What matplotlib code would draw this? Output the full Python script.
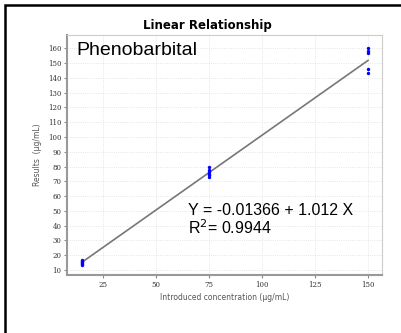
import numpy as np
import matplotlib.pyplot as plt
from matplotlib.patches import Rectangle

# data
conc_15 = [15, 15, 15, 15, 15, 15]
res_15 = [13.5, 14.2, 14.8, 15.3, 16.0, 16.6]
conc_75 = [75, 75, 75, 75, 75, 75]
res_75 = [73.0, 74.0, 75.0, 76.2, 77.5, 79.5]
conc_150 = [150, 150, 150, 150, 150]
res_150 = [160.5, 158.5, 156.5, 146.0, 143.5]

intercept = -0.01366
slope = 1.012
fit_x = [15, 150]

xticks = [25, 50, 75, 100, 125, 150]
yticks = list(range(10, 170, 10))

fig = plt.figure(figsize=(4.01, 3.33), dpi=100)
ax = fig.add_axes([67/401, 1 - 275/333, (382-67)/401, (275-35)/333])

x_all = conc_15 + conc_75 + conc_150
y_all = res_15 + res_75 + res_150
fx = np.array(fit_x)
ax.plot(fx, intercept + slope*fx, color='#777777', lw=1.2, zorder=2)
ax.scatter(x_all, y_all, s=6, marker='o', color='#0000ff', lw=0, zorder=3)

ax.set_xlim(8, 156.6)
ax.set_ylim(6.6, 169)
ax.set_xticks(xticks)
ax.set_yticks(yticks)
ax.tick_params(labelsize=5, length=2, color='#888888', pad=2, labelcolor='#333333')
for lab in ax.get_xticklabels() + ax.get_yticklabels():
    lab.set_family('DejaVu Serif')
ax.grid(True, color='#dddddd', lw=0.6, ls=':')
for s in ['left', 'bottom']:
    ax.spines[s].set_color('#999999')
    ax.spines[s].set_linewidth(1.5)
for s in ['top', 'right']:
    ax.spines[s].set_color('#cccccc')
    ax.spines[s].set_linewidth(0.8)

ax.set_xlabel('Introduced concentration (µg/mL)', fontsize=5.5, color='#555555', labelpad=3)
ax.set_ylabel('Results  (µg/mL)', fontsize=5.5, color='#555555', labelpad=4)
fig.text(207/401, 1 - 25/333, 'Linear Relationship', fontsize=8.5, fontweight='bold',
         ha='center', va='center')

ax.text(0.03, 0.97, 'Phenobarbital', transform=ax.transAxes, fontsize=14,
        family='Liberation Sans', va='top', ha='left')
ax.text(65, 50.5, 'Y = -0.01366 + 1.012 X', fontsize=11.5,
        family='Liberation Sans', va='center', ha='left')
ax.text(65, 38.5, 'R$^2$= 0.9944', fontsize=11.5,
        family='Liberation Sans', va='center', ha='left')

# outer frame (only top and left edges show in the crop)
fig.patches.append(Rectangle((5/401, -0.1), 1.2, 1 - 5/333 + 0.1, transform=fig.transFigure,
                             fill=False, ec='black', lw=1.8))

fig.savefig('out.png', dpi=100)
